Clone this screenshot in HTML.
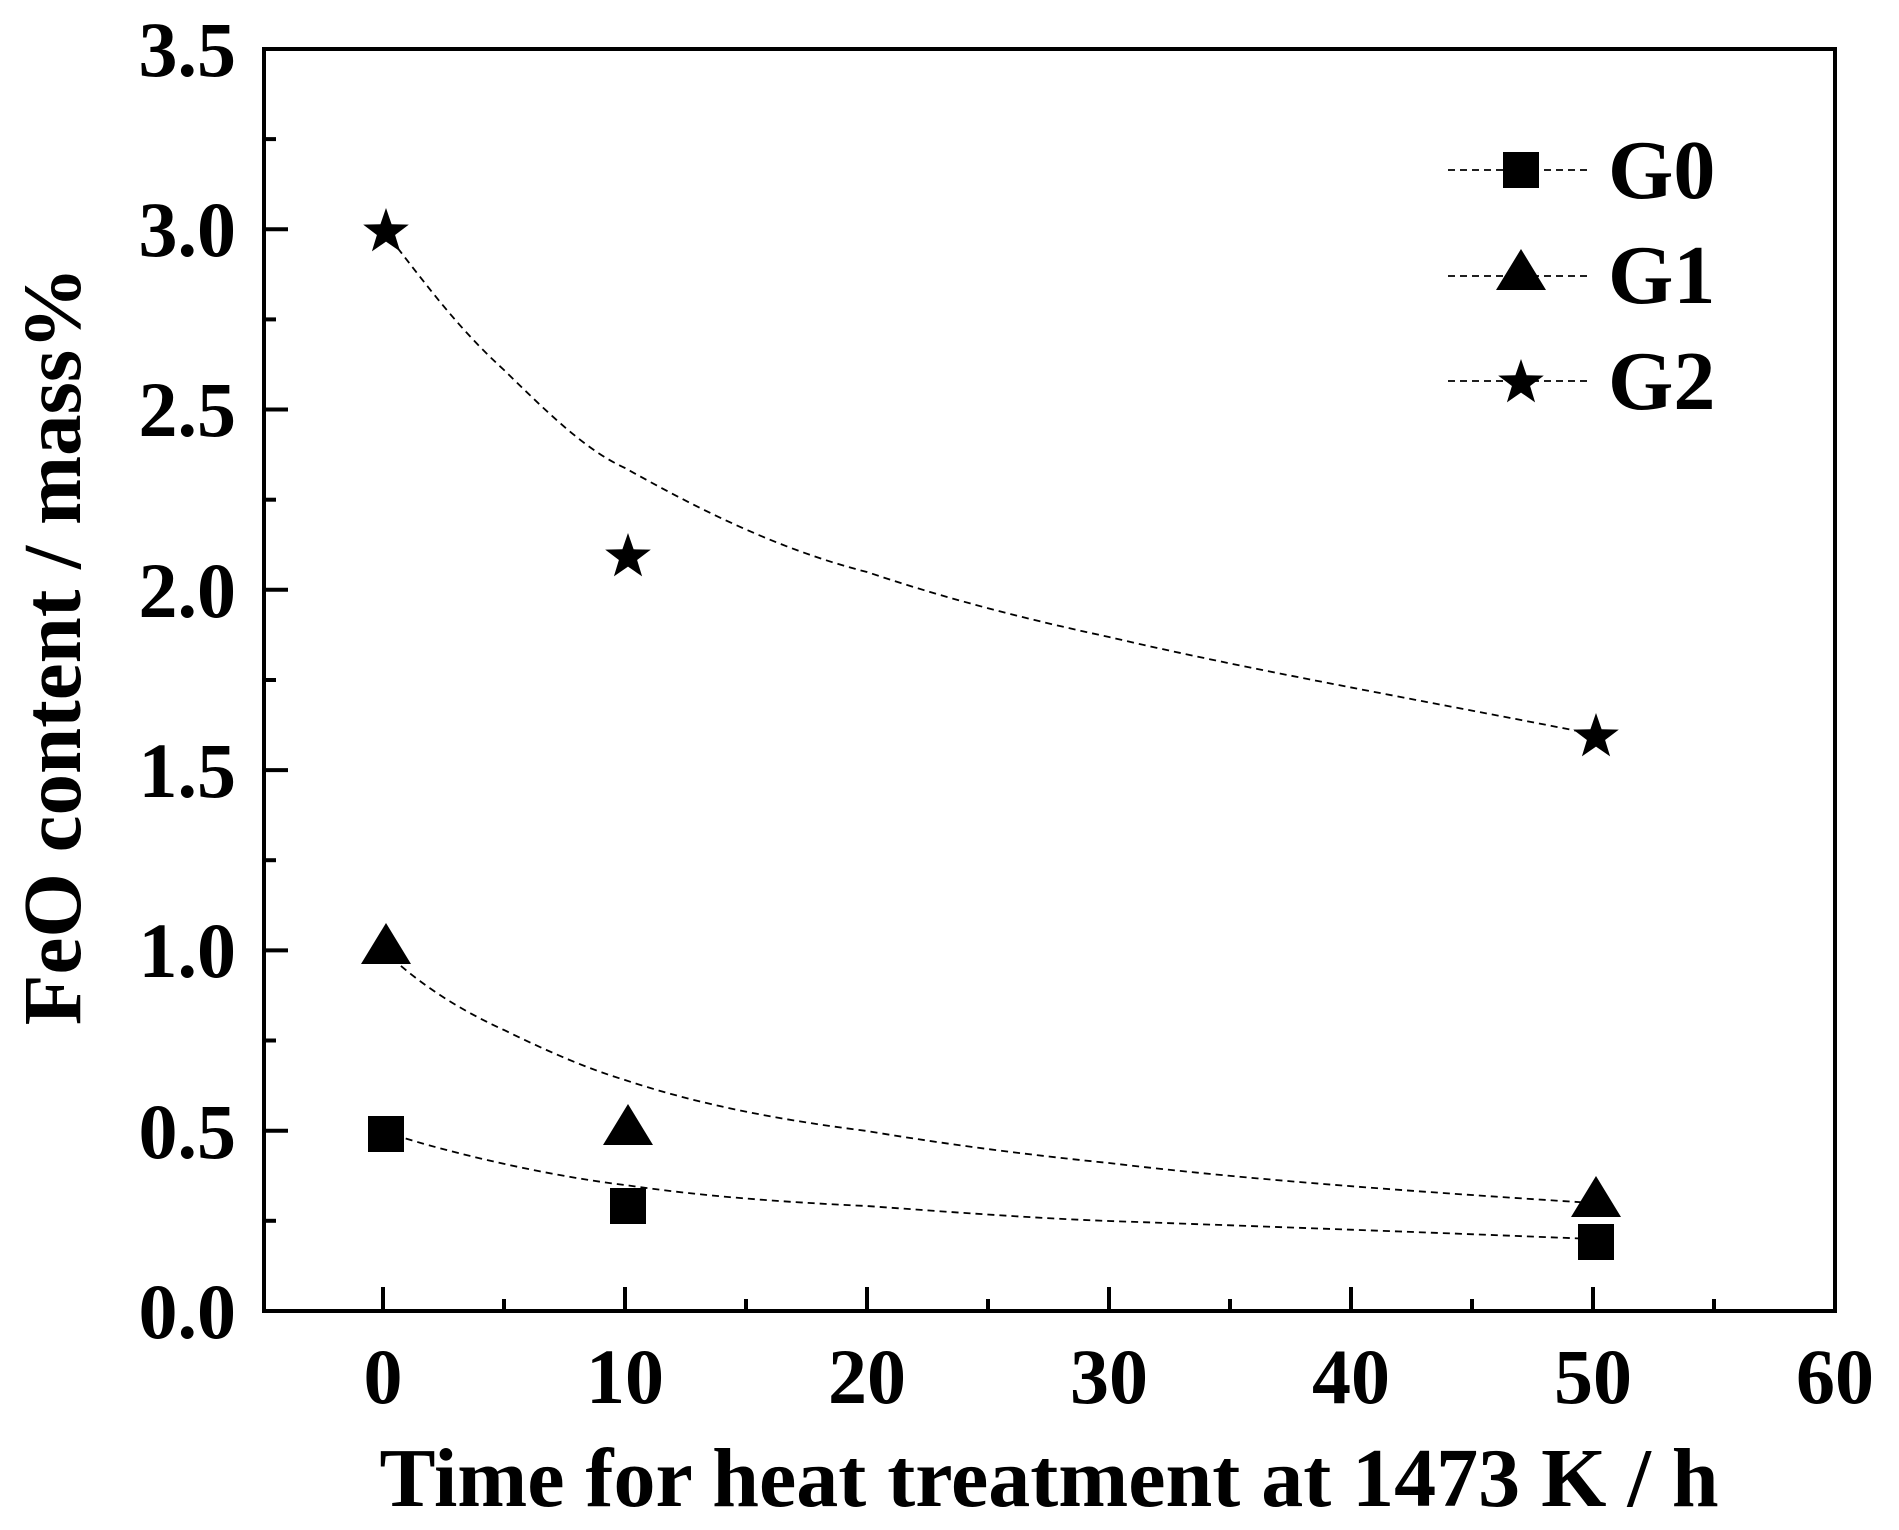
<!DOCTYPE html>
<html><head><meta charset="utf-8"><style>
html,body{margin:0;padding:0;background:#fff;}
svg{display:block;}
text{font-family:"Liberation Serif",serif;font-weight:bold;fill:#000;}
</style></head><body>
<svg width="1899" height="1530" viewBox="0 0 1899 1530" xmlns="http://www.w3.org/2000/svg">
<defs>
<polygon id="star" points="0,-24 5.6,-7.7 22.8,-7.4 9.1,3 14.1,19.4 0,9.6 -14.1,19.4 -9.1,3 -22.8,-7.4 -5.6,-7.7"/>
<polygon id="tri" points="0,-27 25,14 -25,14"/>
<rect id="sq" x="-18" y="-18" width="36" height="36"/>
</defs>
<rect x="264" y="49" width="1571" height="1262" fill="none" stroke="#000" stroke-width="4"/>
<g stroke="#000" stroke-width="4">
<line x1="383" y1="1311" x2="383" y2="1287"/><line x1="625" y1="1311" x2="625" y2="1287"/><line x1="867" y1="1311" x2="867" y2="1287"/><line x1="1109" y1="1311" x2="1109" y2="1287"/><line x1="1351" y1="1311" x2="1351" y2="1287"/><line x1="1593" y1="1311" x2="1593" y2="1287"/>
<line x1="504" y1="1311" x2="504" y2="1299"/><line x1="746" y1="1311" x2="746" y2="1299"/><line x1="988" y1="1311" x2="988" y2="1299"/><line x1="1230" y1="1311" x2="1230" y2="1299"/><line x1="1472" y1="1311" x2="1472" y2="1299"/><line x1="1714" y1="1311" x2="1714" y2="1299"/>
<line x1="264" y1="1130.7" x2="288" y2="1130.7"/><line x1="264" y1="950.4" x2="288" y2="950.4"/><line x1="264" y1="770.1" x2="288" y2="770.1"/><line x1="264" y1="589.8" x2="288" y2="589.8"/><line x1="264" y1="409.5" x2="288" y2="409.5"/><line x1="264" y1="229.2" x2="288" y2="229.2"/>
<line x1="264" y1="1220.8" x2="276" y2="1220.8"/><line x1="264" y1="1040.5" x2="276" y2="1040.5"/><line x1="264" y1="860.2" x2="276" y2="860.2"/><line x1="264" y1="680" x2="276" y2="680"/><line x1="264" y1="499.7" x2="276" y2="499.7"/><line x1="264" y1="319.4" x2="276" y2="319.4"/><line x1="264" y1="139.1" x2="276" y2="139.1"/>
</g>
<g font-size="78" text-anchor="end">
<text x="236" y="1338">0.0</text><text x="236" y="1158">0.5</text><text x="236" y="977">1.0</text><text x="236" y="797">1.5</text><text x="236" y="617">2.0</text><text x="236" y="436">2.5</text><text x="236" y="256">3.0</text><text x="236" y="76">3.5</text>
</g>
<g font-size="78" text-anchor="middle">
<text x="383" y="1403">0</text><text x="625" y="1403">10</text><text x="867" y="1403">20</text><text x="1109" y="1403">30</text><text x="1351" y="1403">40</text><text x="1593" y="1403">50</text><text x="1835" y="1403">60</text>
</g>
<text x="1049" y="1506" font-size="84" text-anchor="middle">Time for heat treatment at 1473 K / h</text>
<text transform="translate(80,646) rotate(-90)" font-size="83" text-anchor="middle">FeO content / mass%</text>
<g fill="none" stroke="#000" stroke-width="1.8" stroke-dasharray="7,5">
<path d="M383,229 C430,290 460,330 504,370 C545,410 585,450 625,468 C700,510 780,550 867,572 C950,600 1030,620 1109,637 C1250,670 1420,700 1593,734"/>
<path d="M383,950 C420,985 460,1010 504,1030 C545,1050 585,1068 625,1080 C700,1105 780,1120 867,1131 C950,1145 1030,1155 1109,1163 C1250,1180 1420,1192 1593,1203"/>
<path d="M383,1131 C430,1148 540,1175 625,1185 C700,1196 780,1202 867,1206 C950,1212 1030,1218 1109,1221 C1250,1226 1420,1232 1593,1239"/>
<line x1="1448" y1="170" x2="1592" y2="170"/><line x1="1448" y1="276" x2="1592" y2="276"/><line x1="1448" y1="381" x2="1592" y2="381"/>
</g>
<use href="#star" x="386" y="232"/><use href="#star" x="628" y="557"/><use href="#star" x="1596" y="737"/>
<use href="#tri" x="386" y="950"/><use href="#tri" x="628" y="1131"/><use href="#tri" x="1596" y="1203"/>
<use href="#sq" x="386" y="1134"/><use href="#sq" x="628" y="1206"/><use href="#sq" x="1596" y="1242"/>
<use href="#sq" x="1521" y="170"/><use href="#tri" x="1521" y="276"/><use href="#star" x="1521" y="383"/>
<g font-size="84"><text x="1608" y="198">G0</text><text x="1608" y="303">G1</text><text x="1608" y="409">G2</text></g>
</svg>
</body></html>
